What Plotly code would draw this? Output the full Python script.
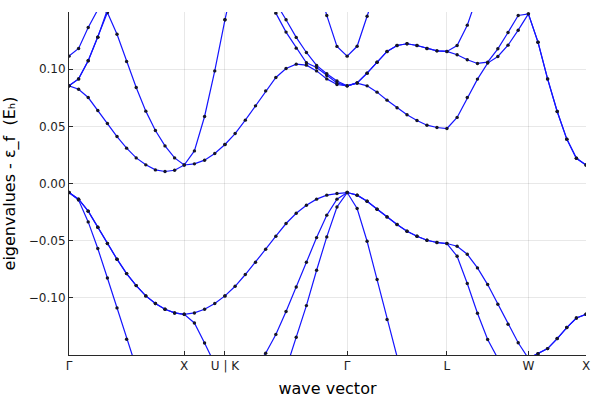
import numpy as np
import plotly.graph_objects as go

# ---- k-path: high-symmetry labels, segment lengths (2pi/a) and number of intervals
kpath_labels = ["Γ", "X", "U | K", "Γ", "L", "W", "X"]
seg_lengths_1 = [1.0, 0.3535534]                        # Γ-X, X-U
seg_intervals_1 = [12, 4]
seg_lengths_2 = [1.0606602, 0.8660254, 0.7071068, 0.5]  # K-Γ, Γ-L, L-W, W-X
seg_intervals_2 = [12, 10, 8, 6]

# ---- eigenvalues - εF (Hartree), branch 1: Γ-X-U
b2_p1 = [-0.0079, -0.0145, -0.0336, -0.0569, -0.0826, -0.1088, -0.1362, -0.163, -0.19, -0.213, -0.232, -0.244, -0.248,
         -0.246, -0.24, -0.232, -0.222]
b3_p1 = [-0.0079, -0.0137, -0.0242, -0.0382, -0.0525, -0.0662, -0.0788, -0.0893, -0.0983, -0.105, -0.110, -0.1132, -0.1144,
         -0.122, -0.1395, -0.158, -0.172]
b4_p1 = [-0.0079, -0.0137, -0.0242, -0.0382, -0.0525, -0.0662, -0.0788, -0.0893, -0.0983, -0.105, -0.110, -0.1132, -0.1144,
         -0.1132, -0.110, -0.105, -0.0983]
b5_p1 = [0.0854, 0.0825, 0.0752, 0.0639, 0.0525, 0.0411, 0.0309, 0.0224, 0.0163, 0.0119, 0.0105, 0.0116, 0.0162,
         0.0172, 0.0204, 0.0262, 0.0341]
b6_p1 = [0.0854, 0.0915, 0.1073, 0.128, 0.1495, 0.1306, 0.1067, 0.084, 0.0633, 0.0464, 0.0329, 0.0224, 0.0162,
         0.0285, 0.0586, 0.0985, 0.1432]
b7_p1 = [0.0854, 0.0915, 0.1073, 0.128, 0.152, 0.172, 0.19, 0.205, 0.215, 0.22, 0.225, 0.228, 0.23,
         0.228, 0.225, 0.215, 0.20]
b8_p1 = [0.1114, 0.1181, 0.1365, 0.152, 0.18, 0.20, 0.22, 0.24, 0.25, 0.26, 0.27, 0.27, 0.27,
         0.27, 0.26, 0.25, 0.24]

# ---- branch 2: K-Γ-L-W-X
b2_p2 = [-0.222, -0.22, -0.215, -0.205, -0.19, -0.178, -0.162, -0.1345, -0.1068, -0.0759, -0.0467, -0.0205, -0.0079,
         -0.0219, -0.0505, -0.084, -0.119, -0.153, -0.185, -0.212, -0.235, -0.25, -0.255,
         -0.25, -0.245, -0.24, -0.235, -0.23, -0.225, -0.22, -0.215,
         -0.22, -0.225, -0.23, -0.235, -0.24, -0.248]
b3_p2 = [-0.172, -0.171, -0.167, -0.16, -0.1485, -0.132, -0.112, -0.0905, -0.0689, -0.0473, -0.0277, -0.0137, -0.0079,
         -0.0102, -0.0155, -0.0225, -0.0292, -0.0359, -0.0417, -0.0461, -0.0496, -0.0516, -0.0525,
         -0.0636, -0.0875, -0.1135, -0.1365, -0.153, -0.162, -0.16, -0.153,
         -0.1488, -0.1444, -0.1356, -0.126, -0.1176, -0.1144]
b4_p2 = [-0.0983, -0.0899, -0.0796, -0.0689, -0.0575, -0.0461, -0.035, -0.026, -0.019, -0.0137, -0.0102, -0.0088, -0.0079,
         -0.0102, -0.0155, -0.0225, -0.0292, -0.0359, -0.0417, -0.0461, -0.0496, -0.0516, -0.0525,
         -0.0549, -0.0619, -0.0738, -0.0884, -0.1056, -0.1231, -0.1393, -0.153,
         -0.1488, -0.1444, -0.1356, -0.126, -0.1176, -0.1144]
b5_p2 = [0.0341, 0.0437, 0.0554, 0.0679, 0.0810, 0.0927, 0.1006, 0.1044, 0.1035, 0.0985, 0.0915, 0.0866, 0.0854,
         0.0878, 0.0854, 0.0799, 0.0729, 0.0662, 0.0601, 0.0551, 0.0510, 0.0490, 0.0481,
         0.0578, 0.0752, 0.0913, 0.1053, 0.1111, 0.1210, 0.1341, 0.1484,
         0.1236, 0.0915, 0.0630, 0.0388, 0.0221, 0.0162]
b6_p2 = [0.1432, 0.183, 0.19, 0.185, 0.17, 0.149, 0.1324, 0.1184, 0.1056, 0.1015, 0.0945, 0.0880, 0.0854,
         0.0880, 0.0965, 0.1061, 0.1155, 0.1207, 0.1222, 0.1207, 0.1181, 0.1160, 0.1155,
         0.1126, 0.1082, 0.1050, 0.1061, 0.1178, 0.1321, 0.1470, 0.1484,
         0.1236, 0.0915, 0.0630, 0.0388, 0.0221, 0.0162]
b7_p2 = [0.20, 0.20, 0.195, 0.188, 0.178, 0.158, 0.1432, 0.1278, 0.1146, 0.1033, 0.0960, 0.0896, 0.0854,
         0.0880, 0.0965, 0.1061, 0.1155, 0.1207, 0.1222, 0.1207, 0.1181, 0.1160, 0.1155,
         0.1207, 0.1385, 0.166, 0.19, 0.20, 0.20, 0.20, 0.20,
         0.20, 0.21, 0.22, 0.225, 0.23, 0.23]
b8_p2 = [0.24, 0.24, 0.235, 0.23, 0.22, 0.21, 0.20, 0.19, 0.185, 0.178, 0.147, 0.1199, 0.1114,
         0.120, 0.1463, 0.175, 0.20, 0.22, 0.23, 0.235, 0.24, 0.24, 0.24,
         0.24, 0.245, 0.25, 0.25, 0.25, 0.25, 0.25, 0.25,
         0.25, 0.255, 0.26, 0.265, 0.27, 0.27]

bands_p1 = [b2_p1, b3_p1, b4_p1, b5_p1, b6_p1, b7_p1, b8_p1]
bands_p2 = [b2_p2, b3_p2, b4_p2, b5_p2, b6_p2, b7_p2, b8_p2]


def branch_x(start, lengths, intervals):
    xs = [start]
    for L, n in zip(lengths, intervals):
        x0 = xs[-1]
        xs.extend(list(x0 + L * np.arange(1, n + 1) / n))
    return xs


x1 = branch_x(0.0, seg_lengths_1, seg_intervals_1)
x2 = branch_x(x1[-1], seg_lengths_2, seg_intervals_2)

# high-symmetry tick positions
tick_x = [0.0]
for L in seg_lengths_1:
    tick_x.append(tick_x[-1] + L)
for L in seg_lengths_2:
    tick_x.append(tick_x[-1] + L)

fig = go.Figure()
for bp1, bp2 in zip(bands_p1, bands_p2):
    fig.add_trace(go.Scatter(
        x=list(x1) + [None] + list(x2),
        y=list(bp1) + [None] + list(bp2),
        mode="lines+markers",
        line=dict(color="rgb(20,20,255)", width=1.2),
        marker=dict(color="rgb(20,20,40)", size=3.4, line=dict(width=0)),
        showlegend=False, connectgaps=False, cliponaxis=True,
    ))

axis_common = dict(
    showline=True, linecolor="rgb(40,40,40)", linewidth=1, mirror=False,
    ticks="inside", ticklen=4, tickcolor="rgb(40,40,40)", tickwidth=1,
    showgrid=True, gridcolor="rgba(0,0,0,0.09)", gridwidth=0.8,
    zeroline=False, automargin=False,
    tickfont=dict(family="DejaVu Sans", size=12, color="rgb(30,30,30)"),
)

fig.update_layout(
    width=597, height=399,
    margin=dict(l=69, r=11, t=12, b=44),
    paper_bgcolor="white", plot_bgcolor="white",
    font=dict(family="DejaVu Sans", color="black"),
    xaxis=dict(
        range=[0, tick_x[-1]], tickmode="array", tickvals=tick_x, ticktext=kpath_labels,
        title=dict(text="wave vector", font=dict(size=16), standoff=10),
        **axis_common,
    ),
    yaxis=dict(
        range=[-0.15, 0.15], tickmode="array", tickvals=[-0.10, -0.05, 0.0, 0.05, 0.10],
        tickformat=".2f",
        title=dict(text="eigenvalues - ε_f  (Eₕ)", font=dict(size=16), standoff=12),
        **axis_common,
    ),
)

fig.write_html(
    "out.html",
    config={"displayModeBar": False},
    post_script="document.body.style.margin='0px';document.body.style.overflow='hidden';",
)
